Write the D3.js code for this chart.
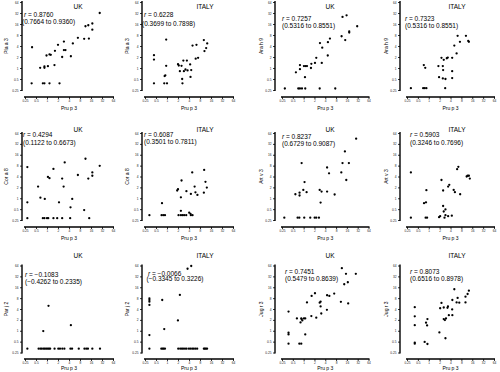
<!DOCTYPE html>
<html>
<head>
<meta charset="utf-8">
<script src="https://cdn.jsdelivr.net/npm/d3@7"></script>
<style>
  body { margin: 0; background: #fff; }
  svg { display: block; font-family: "Liberation Sans", Arial, sans-serif; }
</style>
</head>
<body>
<div id="chart"></div>
<script>
// Shared axis ticks (log2 scale, kU/L)
const tickValues = [0.25, 0.5, 1, 2, 4, 8, 16, 32, 64];
const xLabel = 'Pru p 3';
const countries = ['UK', 'ITALY', 'UK', 'ITALY', 'UK', 'ITALY', 'UK', 'ITALY', 'UK', 'ITALY', 'UK', 'ITALY'];
const yLabels = ['Pla a 3', 'Pla a 3', 'Ara h 9', 'Ara h 9', 'Cor a 8', 'Cor a 8',
                 'Art v 3', 'Art v 3', 'Par j 2', 'Par j 2', 'Jug r 3', 'Jug r 3'];
const rValues = ['0.8760', '0.6228', '0.7257', '0.7323', '0.4294', '0.6087',
                 '0.8237', '0.5903', '\u22120.1083', '\u22120.0066', '0.7451', '0.8073'];
const ciValues = ['(0.7664 to 0.9360)', '(0.3699 to 0.7898)', '(0.5316 to 0.8551)', '(0.5316 to 0.8551)',
                  '(0.1122 to 0.6673)', '(0.3501 to 0.7811)', '(0.6729 to 0.9087)', '(0.3246 to 0.7696)',
                  '(\u22120.4262 to 0.2335)', '(\u22120.3345 to 0.3226)', '(0.5479 to 0.8639)', '(0.6516 to 0.8978)'];

// [Pru p 3, other allergen]
const plaUK = [[27.7,32],[11.3,13.9],[13.5,14.8],[17.4,16.5],[17.4,11.2],[14,6.4],[10.4,6.3],[7,6.7],
  [5.1,4.7],[2.9,5.3],[2.0,4.3],[2.9,3.1],[3.2,3.1],[4.5,2.1],[2.6,2.0],[1.65,2.95],[1.17,2.35],
  [1.27,2.3],[0.97,2.2],[0.39,3.7],[1.6,1.2],[1.06,1.12],[0.85,1.1],[0.85,1.01],[0.65,1.01],
  [0.38,0.38],[0.77,0.38],[0.85,0.38],[1.17,0.38],[2.2,0.38]];
const plaIT = [[0.95,6.0],[0.44,2.25],[0.44,1.7],[0.95,1.15],[5.0,4.1],[6.4,4.3],[10.2,5.8],[12.6,4.7],
  [11.8,3.5],[10.6,2.9],[7.1,1.9],[6.1,1.8],[2.8,1.6],[3.5,1.6],[2.0,1.27],[2.1,1.17],[2.5,1.15],
  [4.3,1.25],[3.2,0.91],[2.25,0.82],[2.9,0.82],[3.65,0.86],[4.6,0.88],[4.4,0.57],[2.6,0.5],
  [2.65,0.38],[0.86,0.6],[0.9,0.63],[0.44,0.38],[0.84,0.38],[1.0,0.38]];
const araUK = [[12.1,25],[15.7,27.7],[31,13.9],[18.6,10.1],[18.6,9.3],[11.4,7.4],[14.4,5.8],[5.4,6.4],
  [4.75,5.1],[2.85,4.8],[3.3,3.6],[4.7,2.2],[2.25,1.9],[3.2,1.38],[2.07,1.38],[1.64,1.3],[1.6,1.0],
  [1.13,1.13],[1.02,1.13],[1.24,1.13],[0.79,1.2],[0.79,0.93],[0.61,0.76],[1.09,0.56],
  [0.3,0.275],[0.71,0.275],[0.79,0.275],[0.9,0.275],[1.11,0.275],[2.8,0.275],[7.6,0.275]];
const araIT = [[6.3,7.6],[10.7,7.6],[7.3,5.2],[12.9,5.2],[12.4,5.5],[5.1,4.1],[5.9,2.5],[4.45,1.9],
  [3.36,1.93],[3.16,1.85],[2.25,1.9],[2.6,1.67],[1.85,1.13],[2.45,1.13],[2.5,0.88],[4.45,0.82],
  [0.73,1.2],[0.8,1.01],[1.93,0.56],[2.45,0.52],[2.9,0.5],[4.45,0.53],
  [0.32,0.28],[0.7,0.28],[0.77,0.28],[0.86,0.28],[2.85,0.28]];
const corUK = [[0.29,7.3],[0.29,0.77],[0.29,0.28],[0.77,0.28],[0.85,0.28],[1.0,0.28],[1.08,0.28],
  [1.5,0.28],[1.9,0.28],[2.6,0.28],[4.3,0.28],[14.3,0.28],[10.4,0.47],[4.4,0.56],[4.9,0.96],
  [2.13,0.77],[0.87,0.96],[0.66,1.04],[0.57,2.1],[1.06,3.9],[1.17,3.6],[1.5,6.5],[3.05,9.8],
  [2.6,3.5],[2.85,2.1],[7.0,4.4],[11.3,12.4],[13.5,3.5],[17.4,5.2],[17.4,4.2],[27.7,7.9]];
const corIT = [[0.33,0.34],[0.71,0.34],[0.79,0.34],[0.88,0.34],[2.07,0.34],[2.4,0.34],[2.66,0.34],
  [2.95,0.34],[3.36,0.34],[4.5,0.34],[5.0,0.34],[0.73,0.73],[2.4,0.45],[4.05,0.4],[4.4,0.37],
  [1.9,1.64],[2.0,1.78],[2.5,3.1],[2.4,1.06],[3.4,1.57],[4.5,1.32],[4.9,5.2],[5.7,2.1],[6.0,1.46],
  [6.8,1.24],[10.2,1.43],[10.4,6.1],[11.3,2.85],[12.3,1.97]];
const artUK = [[0.29,0.29],[0.68,0.29],[0.76,0.29],[1.04,0.29],[1.53,0.29],[2.03,0.29],[2.25,0.29],
  [2.67,0.29],[0.59,1.29],[0.77,1.43],[0.77,1.19],[0.98,1.7],[1.21,1.47],[1.06,2.8],[0.88,9.4],
  [2.8,1.7],[3.16,1.53],[2.97,0.76],[4.5,7.1],[5.1,4.9],[4.5,1.53],[7.3,1.27],[11.2,5.2],
  [12.1,9.4],[14.1,19.8],[15.4,3.2],[18.2,9.4],[29,44.6]];
const artIT = [[0.32,5.2],[0.32,0.29],[0.82,0.29],[0.9,0.29],[0.86,1.67],[0.74,0.73],[0.84,0.77],
  [1.93,0.3],[2.07,0.32],[2.73,0.29],[2.9,0.34],[3.44,0.32],[4.35,0.33],[2.5,0.61],[2.6,0.43],
  [2.9,0.49],[2.25,3.2],[2.5,1.64],[3.44,2.1],[3.7,2.35],[4.9,1.7],[5.3,1.47],[7.4,1.29],
  [6.1,6.4],[6.6,7.4],[11.2,4.0],[11.9,4.2],[12.9,4.2],[13.7,3.5]];
const parUK = [[1.1,4.9],[0.79,0.98],[4.5,1.43],[0.29,0.32],[0.59,0.32],[0.66,0.32],[0.72,0.32],
  [0.8,0.32],[0.87,0.32],[0.95,0.32],[1.04,0.32],[1.13,0.32],[1.22,0.32],[1.61,0.32],[2.04,0.32],
  [2.27,0.32],[2.62,0.32],[2.99,0.32],[4.38,0.32],[4.86,0.32],[7.4,0.32],[10.6,0.32],[11.9,0.32],
  [13.2,0.32],[17.4,0.32],[28.2,0.32]];
const parIT = [[3.65,52],[4.6,62],[0.33,7.9],[0.33,7.1],[0.33,6.4],[0.33,5.2],[0.74,7.1],[2.25,9.8],
  [1.99,1.93],[0.84,1.11],[0.33,0.76],[0.33,0.32],[0.7,0.32],[0.76,0.32],[0.81,0.32],[0.88,0.32],
  [2.03,0.32],[2.3,0.32],[2.55,0.32],[2.77,0.32],[3.1,0.32],[3.43,0.32],[3.97,0.32],[4.4,0.32],
  [4.9,0.32],[5.4,0.32],[6.0,0.32],[6.7,0.32],[10.2,0.32],[10.8,0.32],[11.6,0.32],[12.5,0.32]];
const jugUK = [[11.6,54],[15.1,37.6],[28.4,37.6],[13.5,19.4],[17,22],[17.4,5.7],[10.9,6.3],[7.1,10.7],
  [4.5,9.6],[5.2,9.2],[2.07,10.9],[1.67,9.2],[1.24,6.1],[2.8,6.0],[2.97,6.4],[2.97,4.7],[4.45,3.8],
  [3.1,3.0],[2.25,2.3],[1.64,2.55],[1.11,2.2],[1.02,2.2],[0.88,2.1],[0.92,1.93],[0.82,1.7],
  [0.86,2.2],[0.65,2.2],[0.38,3.4],[0.38,0.88],[0.38,0.79],[0.38,0.44],[0.76,0.44],[0.86,0.44],
  [1.11,0.79]];
const jugIT = [[5.1,14.1],[12.9,12.9],[11.9,10.4],[10.4,8.8],[10.4,6.1],[6.3,8.1],[4.5,7.1],[5.9,6.1],
  [7.0,6.0],[2.25,5.9],[2.07,4.2],[2.6,4.4],[3.3,4.3],[3.4,4.7],[4.45,3.9],[3.6,2.7],[4.5,2.7],
  [2.6,2.1],[2.8,1.97],[3.0,2.2],[1.97,0.9],[2.9,0.62],[0.41,4.5],[0.41,2.5],[0.41,1.43],
  [0.84,1.67],[0.92,2.1],[0.9,1.4],[0.41,0.47],[0.41,0.44],[0.77,0.49],[0.92,0.43]];

const panelData = [plaUK, plaIT, araUK, araIT, corUK, corIT, artUK, artIT, parUK, parIT, jugUK, jugIT];

// Layout of the 4 x 3 grid
const cols = [
  { yAxis: 22, x0: 25, x1: 113, yTitle: 6, title: 78 },
  { yAxis: 142, x0: 145, x1: 233, yTitle: 127, title: 205 },
  { yAxis: 275, x0: 282, x1: 368.5, yTitle: 261, title: 330 },
  { yAxis: 400, x0: 407, x1: 494, yTitle: 386, title: 457 }
];
const rows = [
  { top: 2, bottom: 90, xAxis: 97, title: 8.5, label: 110 },
  { top: 133, bottom: 220, xAxis: 227, title: 132, label: 240 },
  { top: 265.5, bottom: 352.5, xAxis: 359, title: 257.5, label: 369.5 }
];
// r / CI text baselines per panel
const rPos = [[24, 17, 22, 24], [144, 17, 142, 26], [282, 21, 282, 28], [405, 21, 405, 28],
              [23, 137, 23, 145], [144, 137, 144, 144], [282, 139, 282, 146], [410, 137, 410, 145],
              [25, 277, 25, 283.5], [148, 275.5, 146.5, 281], [285, 274, 285, 280.5], [410, 274, 410, 280.5]];

const svg = d3.select('#chart').append('svg')
  .attr('width', 500)
  .attr('height', 372);

svg.append('rect').attr('width', 500).attr('height', 372).attr('fill', '#fff');

const fmt = d => String(d);

panelData.forEach((data, i) => {
  const c = cols[i % 4];
  const r = rows[Math.floor(i / 4)];

  const x = d3.scaleLog().base(2).domain([0.25, 64]).range([c.x0, c.x1]);
  const y = d3.scaleLog().base(2).domain([0.25, 64]).range([r.bottom, r.top]);

  const g = svg.append('g');

  // y axis
  const yAx = g.append('g')
    .attr('transform', `translate(${c.yAxis},0)`)
    .call(d3.axisLeft(y).tickValues(tickValues).tickFormat(fmt).tickSize(2).tickPadding(1.5));
  yAx.select('.domain').attr('d', `M0,${r.top - 1}V${r.bottom + 1}`).attr('stroke-width', 1.4);
  yAx.selectAll('.tick line').attr('stroke-width', 0.8);
  yAx.selectAll('text').attr('font-size', 3.2).attr('fill', '#222');

  // x axis
  const xAx = g.append('g')
    .attr('transform', `translate(0,${r.xAxis})`)
    .call(d3.axisBottom(x).tickValues(tickValues).tickFormat(fmt).tickSize(2).tickPadding(1));
  xAx.select('.domain').attr('d', `M${c.x0 - 1},0H${c.x1 + 1}`).attr('stroke-width', 1.4);
  xAx.selectAll('.tick line').attr('stroke-width', 0.8);
  xAx.selectAll('text').attr('font-size', 3.2).attr('fill', '#222');

  // axis titles
  g.append('text')
    .attr('x', (c.x0 + c.x1) / 2)
    .attr('y', r.label)
    .attr('text-anchor', 'middle')
    .attr('font-size', 5)
    .text(xLabel);

  g.append('text')
    .attr('transform', `translate(${c.yTitle + 1.7},${(r.top + r.bottom) / 2}) rotate(-90)`)
    .attr('text-anchor', 'middle')
    .attr('font-size', 5)
    .text(yLabels[i]);

  // panel title
  g.append('text')
    .attr('x', c.title)
    .attr('y', r.title)
    .attr('text-anchor', 'middle')
    .attr('font-size', 6.5)
    .text(countries[i]);

  // correlation text
  const p = rPos[i];
  const rt = g.append('text').attr('x', p[0]).attr('y', p[1]).attr('font-size', 6.5);
  rt.append('tspan').attr('font-style', 'italic').text('r');
  rt.append('tspan').text(' = ' + rValues[i]);
  g.append('text').attr('x', p[2]).attr('y', p[3]).attr('font-size', 6.5).text(ciValues[i]);

  // points
  g.append('g').selectAll('circle')
    .data(data)
    .enter()
    .append('circle')
    .attr('cx', d => x(d[0]))
    .attr('cy', d => y(d[1]))
    .attr('r', 1.15)
    .attr('fill', '#000');
});
</script>
</body>
</html>
